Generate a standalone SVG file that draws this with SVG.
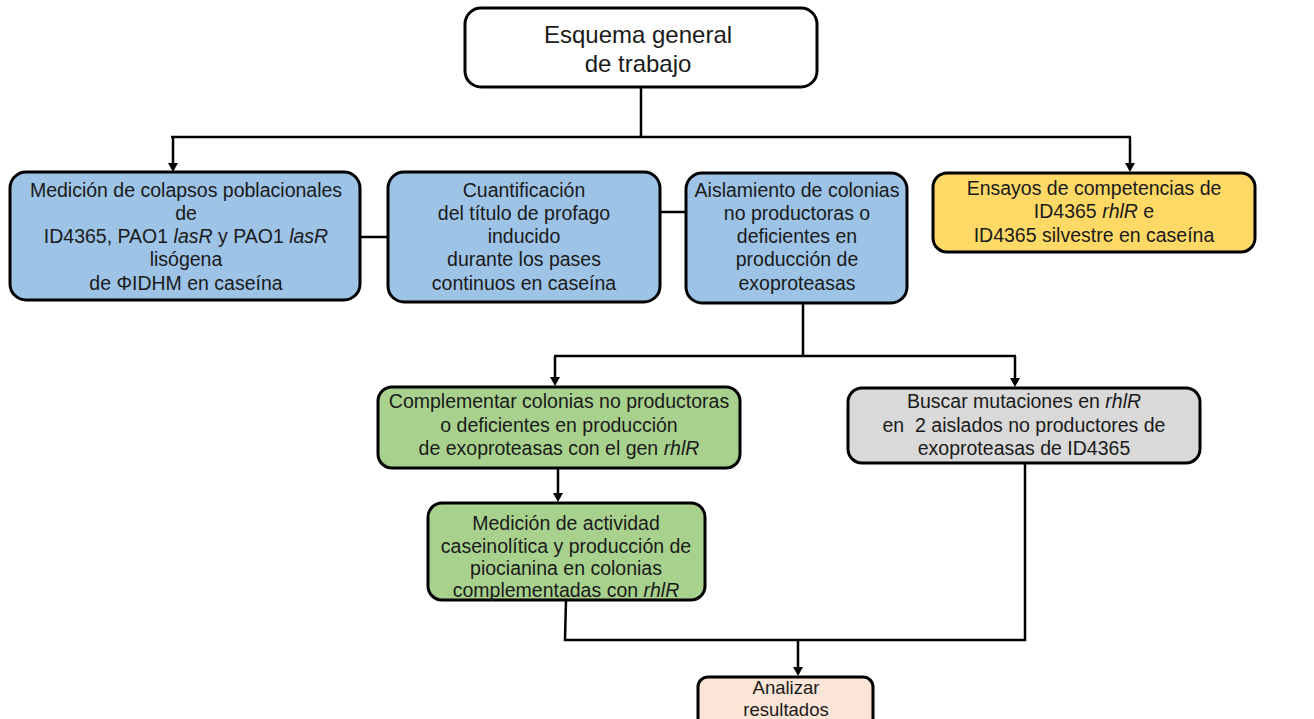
<svg xmlns="http://www.w3.org/2000/svg" width="1314" height="719" viewBox="0 0 1314 719">
<style>
  .box{stroke:#000;stroke-width:3}
  .blue{fill:#9DC3E6}
  .yellow{fill:#FFD966}
  .green{fill:#A9D18E}
  .gray{fill:#D9D9D9}
  .peach{fill:#FBE5D6}
  .white{fill:#FFFFFF}
  text{font-family:"Liberation Sans",Arial,sans-serif;font-size:19.5px;fill:#1a1a1a;text-anchor:middle}
  .big{font-size:24px}
  .sm{font-size:18.5px}
  .conn{fill:none;stroke:#000;stroke-width:2.5}
  .ah{fill:#000}
</style>
<rect width="1314" height="719" fill="#fff"/>
<g id="connectors">
  <path class="conn" d="M641,87 V137"/>
  <path class="conn" d="M171,137 H1131"/>
  <path class="conn" d="M173,137 V164"/>
  <path class="conn" d="M1130,137 V164"/>
  <polygon class="ah" points="168,163 178,163 173,172"/>
  <polygon class="ah" points="1125,163 1135,163 1130,172"/>
  <path class="conn" d="M360,237 H388"/>
  <path class="conn" d="M660,212 H686"/>
  <path class="conn" d="M803,303 V356"/>
  <path class="conn" d="M554,356 H1016"/>
  <path class="conn" d="M555,356 V378"/>
  <path class="conn" d="M1015,356 V379"/>
  <polygon class="ah" points="550,377 560,377 555,386"/>
  <polygon class="ah" points="1010,378 1020,378 1015,387"/>
  <path class="conn" d="M558,468 V494"/>
  <polygon class="ah" points="553,493 563,493 558,502"/>
  <path class="conn" d="M566,600 L565,640 H1025 V463"/>
  <path class="conn" d="M798,640 V668"/>
  <polygon class="ah" points="793,667 803,667 798,676"/>
</g>
<g id="n_top">
  <rect class="box white" x="465" y="8" width="352" height="79" rx="16"/>
  <text class="big" x="638" y="43">Esquema general</text>
  <text class="big" x="638" y="72">de trabajo</text>
</g>
<g id="n_colapsos">
  <rect class="box blue" x="10" y="172" width="350" height="128" rx="16"/>
  <text x="186" y="197">Medición de colapsos poblacionales</text>
  <text x="186" y="220">de</text>
  <text x="186" y="243">ID4365, PAO1 <tspan font-style="italic">lasR</tspan> y PAO1 <tspan font-style="italic">lasR</tspan></text>
  <text x="186" y="266">lisógena</text>
  <text x="186" y="290">de ΦIDHM en caseína</text>
</g>
<g id="n_cuantificacion">
  <rect class="box blue" x="388" y="172" width="272" height="130" rx="16"/>
  <text x="524" y="197">Cuantificación</text>
  <text x="524" y="220">del título de profago</text>
  <text x="524" y="243">inducido</text>
  <text x="524" y="266">durante los pases</text>
  <text x="524" y="290">continuos en caseína</text>
</g>
<g id="n_aislamiento">
  <rect class="box blue" x="686" y="173" width="221" height="130" rx="16"/>
  <text x="797" y="197">Aislamiento de colonias</text>
  <text x="797" y="220">no productoras o</text>
  <text x="797" y="243">deficientes en</text>
  <text x="797" y="266">producción de</text>
  <text x="797" y="290">exoproteasas</text>
</g>
<g id="n_ensayos">
  <rect class="box yellow" x="933" y="173" width="322" height="79" rx="14"/>
  <text x="1094" y="195">Ensayos de competencias de</text>
  <text x="1094" y="218">ID4365 <tspan font-style="italic">rhlR</tspan> e</text>
  <text x="1094" y="242">ID4365 silvestre en caseína</text>
</g>
<g id="n_complementar">
  <rect class="box green" x="378" y="387" width="362" height="81" rx="14"/>
  <text x="559" y="408">Complementar colonias no productoras</text>
  <text x="559" y="432">o deficientes en producción</text>
  <text x="559" y="455">de exoproteasas con el gen <tspan font-style="italic">rhlR</tspan></text>
</g>
<g id="n_buscar">
  <rect class="box gray" x="848" y="388" width="352" height="75" rx="14"/>
  <text x="1024" y="408">Buscar mutaciones en <tspan font-style="italic">rhlR</tspan></text>
  <text x="1024" y="432">en&#160; 2 aislados no productores de</text>
  <text x="1024" y="455">exoproteasas de ID4365</text>
</g>
<g id="n_medicion">
  <rect class="box green" x="428" y="503" width="277" height="97" rx="14"/>
  <text x="566" y="530">Medición de actividad</text>
  <text x="566" y="553">caseinolítica y producción de</text>
  <text x="566" y="575">piocianina en colonias</text>
  <text x="566" y="597">complementadas con <tspan font-style="italic">rhlR</tspan></text>
</g>
<g id="n_analizar">
  <rect class="box peach" x="698" y="677" width="175" height="60" rx="10"/>
  <text class="sm" x="786" y="694">Analizar</text>
  <text class="sm" x="786" y="716">resultados</text>
</g>
</svg>
